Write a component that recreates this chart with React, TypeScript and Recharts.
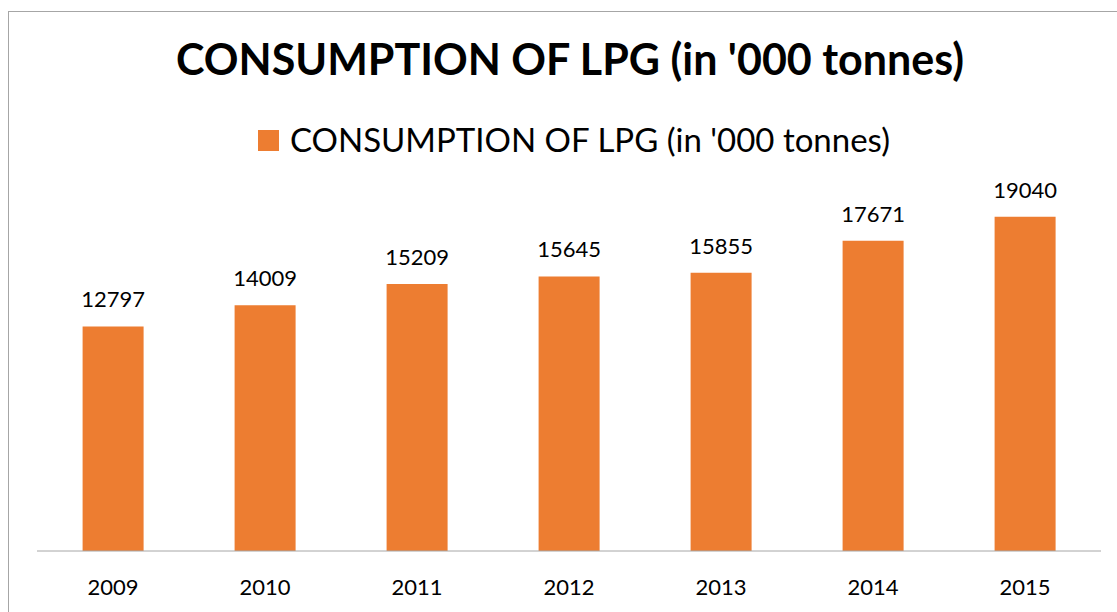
import { BarChart, Bar, XAxis, YAxis, Legend, LabelList } from "recharts"

const years = ["2009", "2010", "2011", "2012", "2013", "2014", "2015"]
const consumption = [12797, 14009, 15209, 15645, 15855, 17671, 19040]
const seriesName = "CONSUMPTION OF LPG (in '000 tonnes)"
const chartTitle = "CONSUMPTION OF LPG (in '000 tonnes)"

const data = years.map((y, i) => ({ year: y, value: consumption[i] }))

const ORANGE = "#ED7D31"
const FONT = "Lato, 'Open Sans', sans-serif"

// legend line is 40px tall, recharts pushes the plot down by that much
const renderLegend = () => (
  <div style={{ display: "flex", justifyContent: "center", alignItems: "center", paddingLeft: 22, fontFamily: FONT, height: 40 }}>
    <span style={{ display: "inline-block", width: 21, height: 21, background: ORANGE, marginRight: 11, marginTop: 3 }} />
    <span style={{ fontSize: 33, lineHeight: "40px", color: "#000" }}>{seriesName}</span>
  </div>
)

export default function App() {
  return (
    <div
      style={{
        position: "absolute", left: 8, top: 11, width: 1109, height: 601,
        borderLeft: "1px solid #a6a6a6", borderTop: "1px solid #a6a6a6",
        boxSizing: "border-box", background: "#fff", overflow: "hidden",
      }}
    >
      <div
        style={{
          position: "absolute", top: 21, left: 0, width: 1108, paddingLeft: 14, boxSizing: "border-box",
          textAlign: "center", fontFamily: FONT, fontWeight: 700, fontSize: 43, lineHeight: 1.2, color: "#000",
        }}
      >
        {chartTitle}
      </div>
      <BarChart width={1108} height={600} data={data} margin={{ top: 148, right: 16, bottom: 0, left: 28 }} barCategoryGap="30%">
        <XAxis
          dataKey="year"
          height={61}
          tickLine={false}
          tickMargin={22}
          stroke="#a6a6a6"
          tick={{ fontSize: 22, fill: "#000", fontFamily: FONT }}
        />
        <YAxis hide domain={[0, 20000]} />
        <Legend verticalAlign="top" content={renderLegend} wrapperStyle={{ top: 107, left: 0, width: 1108 }} />
        <Bar dataKey="value" name={seriesName} fill={ORANGE} isAnimationActive={false}>
          <LabelList dataKey="value" position="top" offset={19} style={{ fontSize: 22, fill: "#000", fontFamily: FONT }} />
        </Bar>
      </BarChart>
    </div>
  )
}
